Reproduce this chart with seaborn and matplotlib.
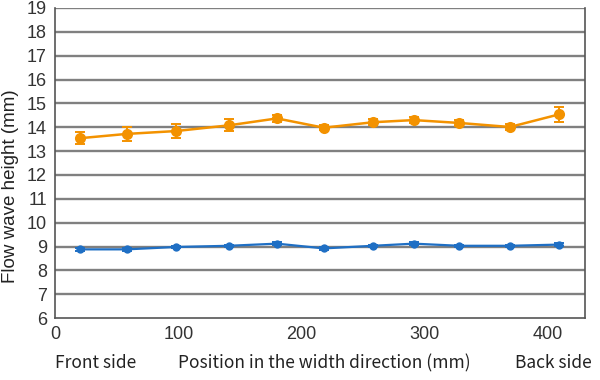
import matplotlib
matplotlib.use("Agg")
import matplotlib.pyplot as plt
import seaborn as sns
import pandas as pd

# Measurement positions across the width (mm)
positions = [20, 58, 98, 141, 180, 218, 258, 291, 328, 369, 409]

# Upper series (orange) and its error
upper_height = [13.54, 13.72, 13.84, 14.08, 14.37, 13.98, 14.21, 14.30, 14.18, 14.01, 14.54]
upper_err = [0.25, 0.30, 0.30, 0.25, 0.15, 0.10, 0.12, 0.12, 0.12, 0.12, 0.32]

# Lower series (blue) and its error
lower_height = [8.88, 8.88, 8.98, 9.03, 9.12, 8.92, 9.03, 9.12, 9.03, 9.03, 9.08]
lower_err = [0.05, 0.05, 0.05, 0.05, 0.05, 0.07, 0.05, 0.05, 0.05, 0.05, 0.05]

y_ticks = list(range(6, 20))
x_ticks = [0, 100, 200, 300, 400]

ORANGE = "#f39200"
BLUE = "#1f6fc4"

df = pd.DataFrame({
    "position": positions * 2,
    "height": upper_height + lower_height,
    "err": upper_err + lower_err,
    "series": ["upper"] * len(positions) + ["lower"] * len(positions),
})

sns.set_theme(style="white")
plt.rcParams["font.family"] = ["Liberation Sans Narrow", "Liberation Sans", "DejaVu Sans"]

fig = plt.figure(figsize=(6, 3.8), dpi=100)
ax = fig.add_axes([0.092, 0.163, 0.883, 0.816])

for y in y_ticks[1:]:
    ax.axhline(y, color="#808080", linewidth=1.7, zorder=0)

sns.lineplot(data=df[df["series"] == "upper"], x="position", y="height",
             color=ORANGE, marker="o", markersize=8, markeredgewidth=0,
             linewidth=1.8, ax=ax, zorder=3)
sns.lineplot(data=df[df["series"] == "lower"], x="position", y="height",
             color=BLUE, marker="o", markersize=6, markeredgewidth=0,
             linewidth=1.6, ax=ax, zorder=3)

for name, color in [("upper", ORANGE), ("lower", BLUE)]:
    sub = df[df["series"] == name]
    ax.errorbar(sub["position"], sub["height"], yerr=sub["err"], fmt="none",
                ecolor=color, elinewidth=1.4, capsize=3.5, capthick=1.4, zorder=3)

ax.set_xlim(0, 430)
ax.set_ylim(6, 19)
ax.set_yticks(y_ticks)
ax.set_xticks(x_ticks)
ax.tick_params(axis="x", direction="in", length=5, width=1, color="#555555",
               labelsize=13, pad=6, labelcolor="#333333")
ax.tick_params(axis="y", length=0, labelsize=13, pad=6, labelcolor="#333333")
for side in ["left", "bottom", "right"]:
    ax.spines[side].set_color("#555555")
    ax.spines[side].set_linewidth(1.2)
ax.spines["top"].set_visible(False)

ax.set_xlabel("")
ax.set_ylabel("")
fig.text(0.017, 0.511, "Flow wave height (mm)", fontsize=13.5, color="#222222",
         rotation=90, ha="center", va="center",
         family=["Liberation Sans", "DejaVu Sans"])

bottom_font = ["Noto Sans CJK JP", "DejaVu Sans"]
fig.text(0.091, 0.045, "Front side", fontsize=12.5, color="#222222", family=bottom_font,
         va="center")
fig.text(0.297, 0.045, "Position in the width direction (mm)", fontsize=12.5,
         color="#222222", family=bottom_font, va="center")
fig.text(0.858, 0.045, "Back side", fontsize=12.5, color="#222222", family=bottom_font,
         va="center")

fig.savefig("out.png", dpi=100)
